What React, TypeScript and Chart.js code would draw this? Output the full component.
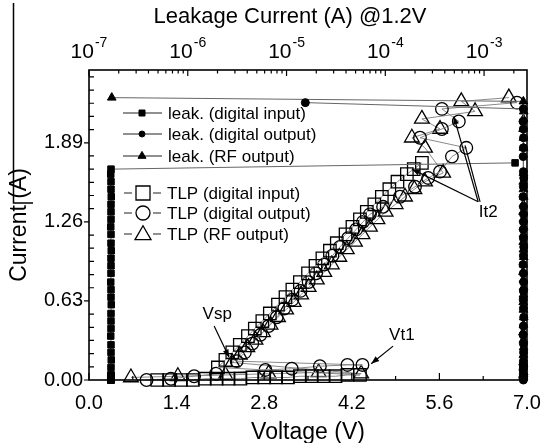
import React, { useEffect, useRef } from "react";
import { Chart, registerables } from "chart.js";

Chart.register(...registerables);

const FONT = "'Liberation Sans', Arial, Helvetica, sans-serif";

// Axis ticks: TLP voltage (bottom), TLP current (left), leakage decades (top)
const voltageTicks = [0, 1.4, 2.8, 4.2, 5.6, 7.0];
const currentTicks = [0, 0.63, 1.26, 1.89];
const leakageDecades = [-7, -6, -5, -4, -3];

// TLP (digital input): pulse voltage (V) / current (A), leakage at 1.2 V after each pulse (A)
const inputVoltage = [
  1.09, 1.28, 1.47, 1.66, 1.85, 2.04, 2.23, 2.42, 2.61, 2.8, 2.99, 3.18, 3.37, 3.56, 3.75, 3.94, 4.13, 4.33,
  2.06, 2.18, 2.29, 2.41, 2.54, 2.65, 2.77, 2.89, 3.02, 3.14, 3.25, 3.37, 3.5, 3.62, 3.73, 3.85, 3.96, 4.1,
  4.21, 4.33, 4.44, 4.56, 4.68, 4.8, 4.93, 5.08, 5.19, 5.32,
];
const inputCurrent = [
  0.0, 0.0, 0.0, 0.0, 0.01, 0.01, 0.01, 0.01, 0.02, 0.02, 0.02, 0.02, 0.03, 0.03, 0.03, 0.03, 0.04, 0.04,
  0.1, 0.16, 0.22, 0.28, 0.35, 0.41, 0.47, 0.53, 0.6, 0.66, 0.72, 0.78, 0.85, 0.91, 0.97, 1.03, 1.09, 1.16,
  1.22, 1.28, 1.34, 1.4, 1.46, 1.52, 1.58, 1.64, 1.68, 1.73,
];
const inputLeakage = [
  1.67e-7, 1.67e-7, 1.66e-7, 1.67e-7, 1.67e-7, 1.68e-7, 1.67e-7, 1.67e-7, 1.66e-7, 1.67e-7, 1.67e-7, 1.67e-7,
  1.68e-7, 1.67e-7, 1.67e-7, 1.66e-7, 1.67e-7, 1.67e-7, 1.67e-7, 1.68e-7, 1.67e-7, 1.67e-7, 1.66e-7, 1.67e-7,
  1.67e-7, 1.67e-7, 1.68e-7, 1.67e-7, 1.67e-7, 1.66e-7, 1.67e-7, 1.67e-7, 1.67e-7, 1.68e-7, 1.67e-7, 1.67e-7,
  1.66e-7, 1.67e-7, 1.67e-7, 1.67e-7, 1.68e-7, 1.67e-7, 1.67e-7, 1.66e-7, 1.67e-7, 2.06e-3,
];

// TLP (digital output)
const outputVoltage = [
  0.92, 1.31, 1.68, 2.03, 2.82, 3.24, 3.69, 4.13, 4.37,
  2.36, 2.49, 2.61, 2.74, 2.87, 3.0, 3.12, 3.25, 3.38, 3.51, 3.63, 3.76, 3.89, 4.01, 4.14, 4.27, 4.38, 4.49,
  4.7, 4.97, 5.21, 5.42, 5.61, 5.8,
  6.03, 5.29, 5.64, 5.91, 5.64, 6.84,
];
const outputCurrent = [
  0.0, 0.01, 0.03, 0.05, 0.08, 0.09, 0.11, 0.12, 0.12,
  0.15, 0.22, 0.29, 0.36, 0.43, 0.5, 0.57, 0.64, 0.71, 0.78, 0.85, 0.92, 0.99, 1.06, 1.13, 1.2, 1.26, 1.32,
  1.38, 1.46, 1.54, 1.61, 1.66, 1.78,
  1.85, 1.93, 2.0, 2.06, 2.16, 2.21,
];
const outputLeakage = [
  2.5e-3, 2.49e-3, 2.51e-3, 2.5e-3, 2.48e-3, 2.5e-3, 2.52e-3, 2.5e-3, 2.49e-3, 2.5e-3, 2.51e-3, 2.5e-3, 2.48e-3,
  2.5e-3, 2.52e-3, 2.5e-3, 2.49e-3, 2.5e-3, 2.51e-3, 2.5e-3, 2.48e-3, 2.5e-3, 2.52e-3, 2.5e-3, 2.49e-3, 2.5e-3,
  2.51e-3, 2.5e-3, 2.48e-3, 2.5e-3, 2.52e-3, 2.5e-3, 2.49e-3, 2.5e-3, 2.51e-3, 2.5e-3, 2.48e-3, 2.5e-3, 1.55e-5,
];

// TLP (RF output)
const rfVoltage = [
  0.67, 1.42, 2.18, 2.87, 3.67, 4.35,
  2.29, 2.41, 2.53, 2.66, 2.78, 2.9, 3.02, 3.15, 3.27, 3.39, 3.51, 3.64, 3.76, 3.88, 4.0, 4.12, 4.25, 4.37,
  4.49, 4.61, 4.74, 4.9, 5.05, 5.2, 5.37, 5.66,
  5.37, 5.16, 5.61, 5.32, 6.17, 5.95, 6.71,
];
const rfCurrent = [
  0.02, 0.03, 0.04, 0.05, 0.06, 0.05,
  0.14, 0.2, 0.26, 0.32, 0.38, 0.44, 0.5, 0.56, 0.62, 0.68, 0.74, 0.8, 0.86, 0.92, 0.98, 1.04, 1.1, 1.16,
  1.22, 1.28, 1.34, 1.4, 1.46, 1.52, 1.58, 1.65,
  1.85, 1.93, 2.0, 2.08, 2.14, 2.22, 2.25,
];
const rfLeakage = [
  2.51e-3, 2.5e-3, 2.48e-3, 2.5e-3, 2.52e-3, 2.5e-3, 2.49e-3, 2.5e-3, 2.51e-3, 2.5e-3, 2.48e-3, 2.5e-3, 2.52e-3,
  2.5e-3, 2.49e-3, 2.5e-3, 2.51e-3, 2.5e-3, 2.48e-3, 2.5e-3, 2.52e-3, 2.5e-3, 2.49e-3, 2.5e-3, 2.51e-3, 2.5e-3,
  2.48e-3, 2.5e-3, 2.52e-3, 2.5e-3, 2.49e-3, 2.5e-3, 2.51e-3, 2.5e-3, 2.48e-3, 2.5e-3, 2.52e-3, 2.5e-3, 1.7e-7,
];

// Annotation labels and arrows, in (V, A) data units
const noteLabels = [
  { text: "Vsp", v: 2.05, i: 0.52 },
  { text: "Vt1", v: 5.0, i: 0.36 },
  { text: "It2", v: 6.38, i: 1.34 },
];
const noteArrows = [
  { from: [2.0, 0.43], to: [2.24, 0.18], head: true },
  { from: [4.86, 0.27], to: [4.51, 0.13], head: true },
  { from: [6.22, 1.42], to: [5.16, 1.68], head: true },
  { from: [6.22, 1.42], to: [5.83, 2.1], head: true },
  { from: [6.25, 1.42], to: [6.01, 1.87], head: false },
];

const legendRows = [
  { text: "leak. (digital input)", shape: "rect", leak: true, y: 113 },
  { text: "leak. (digital output)", shape: "circle", leak: true, y: 134 },
  { text: "leak. (RF output)", shape: "triangle", leak: true, y: 156 },
  { text: "TLP (digital input)", shape: "rect", leak: false, y: 193 },
  { text: "TLP (digital output)", shape: "circle", leak: false, y: 213 },
  { text: "TLP (RF output)", shape: "triangle", leak: false, y: 234 },
];

const pts = (xs: number[], ys: number[]) => xs.map((x, k) => ({ x, y: ys[k] }));

function shape(ctx: CanvasRenderingContext2D, kind: string, x: number, y: number, w: number, filled: boolean) {
  ctx.beginPath();
  if (kind === "rect") {
    ctx.rect(x - w / 2, y - w / 2, w, w);
  } else if (kind === "circle") {
    ctx.arc(x, y, w / 2, 0, Math.PI * 2);
  } else {
    const r = w / Math.sqrt(3);
    ctx.moveTo(x, y - r);
    ctx.lineTo(x + w / 2, y + r / 2);
    ctx.lineTo(x - w / 2, y + r / 2);
    ctx.closePath();
  }
  if (filled) ctx.fill();
  ctx.stroke();
}

const framePlugin = {
  id: "frameTicks",
  afterDatasetsDraw(chart: any) {
    const { ctx, chartArea: a, scales } = chart;
    const xs = scales.x;
    const ys = scales.y;
    const xt = scales.x2;
    ctx.save();
    ctx.strokeStyle = "#000";
    ctx.lineWidth = 1.6;
    ctx.strokeRect(a.left, a.top, a.right - a.left, a.bottom - a.top);
    ctx.lineWidth = 1.2;
    ctx.beginPath();
    voltageTicks.forEach((v, k) => {
      const px = xs.getPixelForValue(v);
      ctx.moveTo(px, a.bottom);
      ctx.lineTo(px, a.bottom - 7);
      if (k < voltageTicks.length - 1) {
        const pm = xs.getPixelForValue((v + voltageTicks[k + 1]) / 2);
        ctx.moveTo(pm, a.bottom);
        ctx.lineTo(pm, a.bottom - 4);
      }
    });
    const step = currentTicks[1] / 6;
    for (let k = 0; k * step <= ys.max + 1e-9; k++) {
      const py = ys.getPixelForValue(k * step);
      if (k % 6 === 0) {
        ctx.moveTo(a.left, py);
        ctx.lineTo(a.left - 5, py);
      } else {
        ctx.moveTo(a.left, py);
        ctx.lineTo(a.left + 5, py);
      }
    }
    leakageDecades.forEach((e) => {
      for (let m = 1; m <= 9; m++) {
        const v = m * Math.pow(10, e);
        if (v > xt.max) break;
        const px = xt.getPixelForValue(v);
        ctx.moveTo(px, a.top);
        ctx.lineTo(px, a.top + (m === 1 ? 6 : 3.5));
      }
    });
    ctx.stroke();
    ctx.restore();
  },
  afterDraw(chart: any) {
    const { ctx, scales } = chart;
    const xs = scales.x;
    const ys = scales.y;
    const xt = scales.x2;
    ctx.save();
    ctx.fillStyle = "#000";
    ctx.strokeStyle = "#000";

    // top axis title and decade labels
    ctx.font = `22px ${FONT}`;
    ctx.textAlign = "center";
    ctx.textBaseline = "alphabetic";
    ctx.fillText("Leakage Current (A) @1.2V", 290, 23);
    leakageDecades.forEach((e) => {
      const px = xt.getPixelForValue(Math.pow(10, e));
      ctx.font = `21px ${FONT}`;
      const wb = ctx.measureText("10").width;
      ctx.font = `14px ${FONT}`;
      const ex = String(e);
      const we = ctx.measureText(ex).width;
      const x0 = px - (wb + we + 1) / 2;
      ctx.textAlign = "left";
      ctx.font = `21px ${FONT}`;
      ctx.fillText("10", x0, 58);
      ctx.font = `14px ${FONT}`;
      ctx.fillText(ex, x0 + wb + 1, 47);
    });

    // left frame rule
    ctx.lineWidth = 1.5;
    ctx.beginPath();
    ctx.moveTo(13.5, 3);
    ctx.lineTo(13.5, 203);
    ctx.lineTo(33, 203);
    ctx.stroke();

    // legend
    legendRows.forEach((r) => {
      ctx.lineWidth = 1.2;
      ctx.strokeStyle = "#222";
      ctx.beginPath();
      if (r.leak) {
        ctx.moveTo(123, r.y);
        ctx.lineTo(162, r.y);
      } else {
        ctx.moveTo(124, r.y);
        ctx.lineTo(132, r.y);
        ctx.moveTo(153, r.y);
        ctx.lineTo(161, r.y);
      }
      ctx.stroke();
      ctx.strokeStyle = "#000";
      ctx.fillStyle = "#000";
      if (r.leak) {
        ctx.lineWidth = 1;
        shape(ctx, r.shape, 142, r.y, r.shape === "triangle" ? 8 : 6, true);
      } else {
        ctx.lineWidth = 1.3;
        const w = r.shape === "triangle" ? 16 : 14;
        shape(ctx, r.shape, 143, r.y + (r.shape === "triangle" ? 1 : 0), w, false);
      }
      ctx.font = `17px ${FONT}`;
      ctx.textAlign = "left";
      ctx.textBaseline = "middle";
      ctx.fillText(r.text, r.leak ? 168 : 167, r.y + 1);
    });

    // annotations
    ctx.font = `17px ${FONT}`;
    ctx.textAlign = "center";
    ctx.textBaseline = "middle";
    noteLabels.forEach((n) => {
      ctx.fillText(n.text, xs.getPixelForValue(n.v), ys.getPixelForValue(n.i));
    });
    ctx.lineWidth = 1.2;
    noteArrows.forEach((n) => {
      const x1 = xs.getPixelForValue(n.from[0]);
      const y1 = ys.getPixelForValue(n.from[1]);
      const x2 = xs.getPixelForValue(n.to[0]);
      const y2 = ys.getPixelForValue(n.to[1]);
      ctx.beginPath();
      ctx.moveTo(x1, y1);
      ctx.lineTo(x2, y2);
      ctx.stroke();
      if (n.head) {
        const ang = Math.atan2(y2 - y1, x2 - x1);
        const L = 8;
        const H = 3;
        ctx.beginPath();
        ctx.moveTo(x2, y2);
        ctx.lineTo(x2 - L * Math.cos(ang) + H * Math.sin(ang), y2 - L * Math.sin(ang) - H * Math.cos(ang));
        ctx.lineTo(x2 - L * Math.cos(ang) - H * Math.sin(ang), y2 - L * Math.sin(ang) + H * Math.cos(ang));
        ctx.closePath();
        ctx.fill();
      }
    });
    ctx.restore();
  },
};

export default function App() {
  const ref = useRef<HTMLCanvasElement>(null);

  useEffect(() => {
    const canvas = ref.current;
    if (!canvas) return;

    const leakStyle = {
      xAxisID: "x2",
      yAxisID: "y",
      showLine: true,
      borderColor: "#666",
      borderWidth: 1,
      pointBackgroundColor: "#000",
      pointBorderColor: "#000",
      pointBorderWidth: 1,
      clip: false as const,
    };
    const tlpStyle = {
      xAxisID: "x",
      yAxisID: "y",
      showLine: true,
      borderColor: "#8a8a8a",
      borderWidth: 1,
      pointBackgroundColor: "rgba(0,0,0,0)",
      pointBorderColor: "#000",
      pointBorderWidth: 1.3,
      clip: false as const,
    };

    const chart = new Chart(canvas, {
      type: "scatter",
      data: {
        datasets: [
          { ...leakStyle, label: "leak. (digital input)", data: pts(inputLeakage, inputCurrent), pointStyle: "rect", pointRadius: 4.6 },
          { ...leakStyle, label: "leak. (digital output)", data: pts(outputLeakage, outputCurrent), pointStyle: "circle", pointRadius: 4 },
          { ...leakStyle, label: "leak. (RF output)", data: pts(rfLeakage, rfCurrent), pointStyle: "triangle", pointRadius: 5 },
          { ...tlpStyle, label: "TLP (digital input)", data: pts(inputVoltage, inputCurrent), pointStyle: "rect", pointRadius: 8.8 },
          { ...tlpStyle, label: "TLP (digital output)", data: pts(outputVoltage, outputCurrent), pointStyle: "circle", pointRadius: 6.3 },
          { ...tlpStyle, label: "TLP (RF output)", data: pts(rfVoltage, rfCurrent), pointStyle: "triangle", pointRadius: 8.5 },
        ],
      },
      options: {
        responsive: false,
        maintainAspectRatio: false,
        devicePixelRatio: 1,
        animation: false,
        events: [],
        layout: { padding: { top: 70, right: 26, left: 0, bottom: 0 } },
        plugins: { legend: { display: false }, tooltip: { enabled: false } },
        scales: {
          x: {
            type: "linear",
            position: "bottom",
            min: 0,
            max: 7,
            grid: { display: false, drawTicks: false },
            border: { display: false },
            afterBuildTicks: (axis: any) => {
              axis.ticks = voltageTicks.map((v) => ({ value: v }));
            },
            afterFit: (axis: any) => {
              axis.height = 63;
            },
            ticks: {
              autoSkip: false,
              maxRotation: 0,
              padding: 11,
              color: "#000",
              font: { size: 20, family: FONT },
              callback: (v: any) => Number(v).toFixed(1),
            },
            title: {
              display: true,
              text: "Voltage (V)",
              color: "#000",
              font: { size: 23, family: FONT, lineHeight: "21px" },
              padding: { top: 0, bottom: 0 },
            },
          },
          x2: {
            type: "logarithmic",
            position: "top",
            display: false,
            min: 1e-7,
            max: 2.72e-3,
          },
          y: {
            type: "linear",
            position: "left",
            min: 0,
            max: 2.47,
            grid: { display: false, drawTicks: false },
            border: { display: false },
            afterBuildTicks: (axis: any) => {
              axis.ticks = currentTicks.map((v) => ({ value: v }));
            },
            afterFit: (axis: any) => {
              axis.width = 89;
            },
            ticks: {
              autoSkip: false,
              padding: 6,
              color: "#000",
              font: { size: 20, family: FONT },
              callback: (v: any) => Number(v).toFixed(2),
            },
            title: {
              display: true,
              text: "Current (A)",
              color: "#000",
              font: { size: 23, family: FONT, lineHeight: "24px" },
              padding: { top: 8, bottom: 0 },
            },
          },
        },
      } as any,
      plugins: [framePlugin],
    });

    return () => chart.destroy();
  }, []);

  return (
    <div style={{ position: "absolute", left: 0, top: 0, width: 553, height: 443, background: "#fff" }}>
      <canvas ref={ref} width={553} height={443} style={{ display: "block", width: 553, height: 443 }} />
    </div>
  );
}
